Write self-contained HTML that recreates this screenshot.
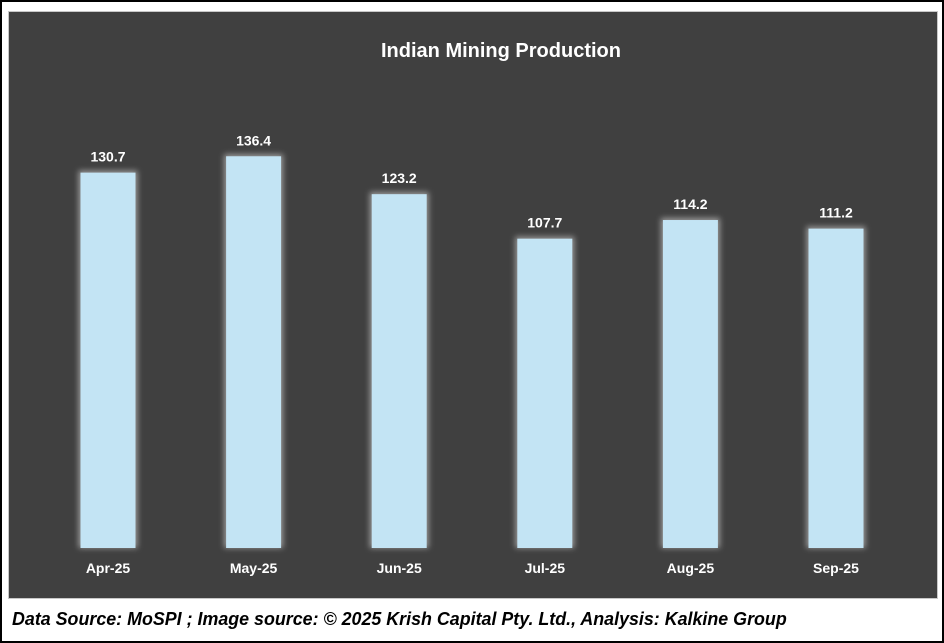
<!DOCTYPE html>
<html><head><meta charset="utf-8"><style>
html,body{margin:0;padding:0;background:#fff;}
#wrap{position:relative;width:944px;height:643px;box-sizing:border-box;border:2px solid #000;background:#fff;overflow:hidden;font-family:"Liberation Sans",sans-serif;}
#panel{position:absolute;left:6px;top:9px;width:930px;height:588px;background:#404040;border:1px solid #c8c8c8;box-sizing:border-box;}
#footer{position:absolute;left:10px;top:606px;font-size:18.5px;font-weight:bold;font-style:italic;color:#000;white-space:nowrap;transform:scaleX(0.965);transform-origin:left top;}
</style></head><body>
<div id="wrap">
<div id="panel"></div>
<svg id="chart" width="944" height="643" style="position:absolute;left:-2px;top:-2px">
<defs><filter id="glow" x="-40%" y="-20%" width="180%" height="140%"><feGaussianBlur stdDeviation="3"/></filter></defs>
<text x="501" y="57" text-anchor="middle" fill="#fff" font-size="20" font-weight="bold" font-family="Liberation Sans, sans-serif">Indian Mining Production</text>
<g id="bars"></g>
</svg>
<div id="footer">Data Source: MoSPI ; Image source: © 2025 Krish Capital Pty. Ltd., Analysis: Kalkine Group</div>
</div>
<script>
const categories = ["Apr-25","May-25","Jun-25","Jul-25","Aug-25","Sep-25"];
const values = [130.7,136.4,123.2,107.7,114.2,111.2];
const valueLabels = ["130.7","136.4","123.2","107.7","114.2","111.2"];
const baseY = 548, pxPerUnit = 2.872, x0 = 108, step = 145.6, bw = 55;
const yScale = v => baseY - v * pxPerUnit;
const xScale = i => x0 + i * step;
const g = document.getElementById('bars');
const NS = "http://www.w3.org/2000/svg";
categories.forEach((c, i) => {
  const cx = xScale(i), top = yScale(values[i]);
  const glow = document.createElementNS(NS, 'rect');
  glow.setAttribute('x', cx - bw/2 - 2); glow.setAttribute('y', top - 2);
  glow.setAttribute('width', bw + 4); glow.setAttribute('height', baseY - top + 2);
  glow.setAttribute('fill', '#9a9a9a'); glow.setAttribute('filter', 'url(#glow)');
  
  
  g.appendChild(glow);
  const r = document.createElementNS(NS, 'rect');
  r.setAttribute('x', cx - bw/2); r.setAttribute('y', top);
  r.setAttribute('width', bw); r.setAttribute('height', baseY - top);
  r.setAttribute('fill', '#c3e4f4');
  
  
  g.appendChild(r);
  const t = document.createElementNS(NS, 'text');
  t.setAttribute('x', cx); t.setAttribute('y', top - 11);
  t.setAttribute('text-anchor', 'middle'); t.setAttribute('fill', '#fff');
  t.setAttribute('font-size', '14'); t.setAttribute('font-weight', 'bold');
  t.textContent = valueLabels[i];
  
  
  g.appendChild(t);
  const l = document.createElementNS(NS, 'text');
  l.setAttribute('x', cx); l.setAttribute('y', 573);
  l.setAttribute('text-anchor', 'middle'); l.setAttribute('fill', '#fff');
  l.setAttribute('font-size', '14'); l.setAttribute('font-weight', 'bold');
  l.textContent = c;
  
  
  g.appendChild(l);
});
</script>
</body></html>
